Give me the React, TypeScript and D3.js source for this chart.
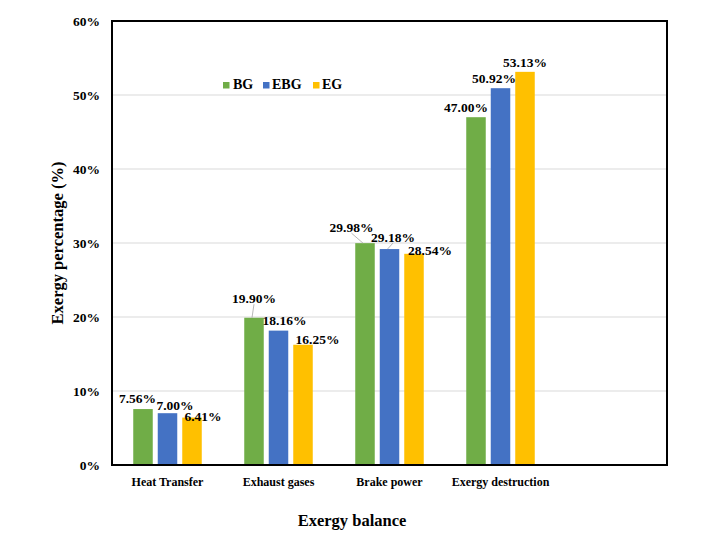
import React from "react";
import * as d3 from "d3";

const categories = ["Heat Transfer", "Exhaust gases", "Brake power", "Exergy destruction"];
const seriesNames = ["BG", "EBG", "EG"];
const bgValues = [7.56, 19.9, 29.98, 47.0];
const ebgValues = [7.0, 18.16, 29.18, 50.92];
const egValues = [6.41, 16.25, 28.54, 53.13];
const yTicks = [0, 10, 20, 30, 40, 50, 60];

const seriesColors = ["#70AD47", "#4472C4", "#FFC000"];
// label nudges (px) per series, per category, like hand-moved Excel labels
const labelDx = [
  [-5.5, 0, -13.5, -10],
  [7.5, 6, 3.5, -6.5],
  [11, 14.5, 16, 0],
];
const labelDy = [
  [-11, -19.5, -16, -10],
  [-8, -10.5, -12, -10],
  [-1.5, -5, -4, -10],
];

const W = 726;
const H = 537;
const L = 112, R = 667, T = 21, B = 465;
const FONT = "'Liberation Serif', 'Times New Roman', serif";

export default function App() {
  const values = [bgValues, ebgValues, egValues];
  const x = d3.scaleBand<string>().domain([...categories, " "]).range([L, R]).paddingInner(0).paddingOuter(0);
  const xs = d3.scaleBand<string>().domain(seriesNames).range([0, x.bandwidth()]).paddingInner(0.204).paddingOuter(0.867);
  const y = d3.scaleLinear().domain([0, 60]).range([B, T]);
  const fmt = (v: number) => v.toFixed(2) + "%";

  const legendItems = [
    { sx: 223, tx: 233 },
    { sx: 263, tx: 272 },
    { sx: 313, tx: 322 },
  ];

  return (
    <svg width={W} height={H} style={{ position: "absolute", left: 0, top: 0, background: "#fff" }} fontFamily={FONT}>
      <rect x={0} y={0} width={W} height={H} fill="#fff" />
      {yTicks.filter((t) => t > 0 && t < 60).map((t) => (
        <line key={t} x1={L} x2={R} y1={y(t)} y2={y(t)} stroke="#D9D9D9" strokeWidth={1} />
      ))}
      {yTicks.map((t) => (
        <text key={"yt" + t} x={100} y={y(t)} dy="0.35em" textAnchor="end" fontSize={13.5} fontWeight="bold" fill="#000">
          {t + "%"}
        </text>
      ))}
      {categories.map((c, ci) =>
        seriesNames.map((s, si) => {
          const v = values[si][ci];
          const bx = (x(c) as number) + (xs(s) as number);
          return (
            <rect key={c + s} x={bx} y={y(v)} width={xs.bandwidth()} height={B - y(v)} fill={seriesColors[si]} />
          );
        })
      )}
      {categories.map((c, ci) =>
        seriesNames.map((s, si) => {
          const v = values[si][ci];
          const cx = (x(c) as number) + (xs(s) as number) + xs.bandwidth() / 2;
          const lx = cx + labelDx[si][ci];
          const ly = y(v) + labelDy[si][ci];
          const gap = y(v) - (ly + 5);
          return (
            <g key={"l" + c + s}>
              {gap > 6 && (
                <line x1={lx} y1={ly + 6} x2={cx - 2} y2={y(v)} stroke="#A6A6A6" strokeWidth={0.8} />
              )}
              <text x={lx} y={ly} dy="0.35em" textAnchor="middle" fontSize={13.5} fontWeight="bold" fill="#000">
                {fmt(v)}
              </text>
            </g>
          );
        })
      )}
      <rect x={L} y={T} width={R - L} height={B - T} fill="none" stroke="#000" strokeWidth={2} />
      {categories.map((c) => (
        <text key={"xt" + c} x={(x(c) as number) + x.bandwidth() / 2} y={482} dy="0.35em" textAnchor="middle" fontSize={12} fontWeight="bold" fill="#000">
          {c}
        </text>
      ))}
      <text x={352} y={520} dy="0.35em" textAnchor="middle" fontSize={16.5} fontWeight="bold" fill="#000">
        Exergy balance
      </text>
      <text transform={`translate(57,243) rotate(-90)`} dy="0.35em" textAnchor="middle" fontSize={16.5} fontWeight="bold" fill="#000">
        Exergy percentage (%)
      </text>
      {seriesNames.map((s, i) => (
        <g key={"lg" + s}>
          <rect x={legendItems[i].sx} y={82} width={6.5} height={6.5} fill={seriesColors[i]} />
          <text x={legendItems[i].tx} y={89} fontSize={14} fontWeight="bold" fill="#000">
            {s}
          </text>
        </g>
      ))}
    </svg>
  );
}
